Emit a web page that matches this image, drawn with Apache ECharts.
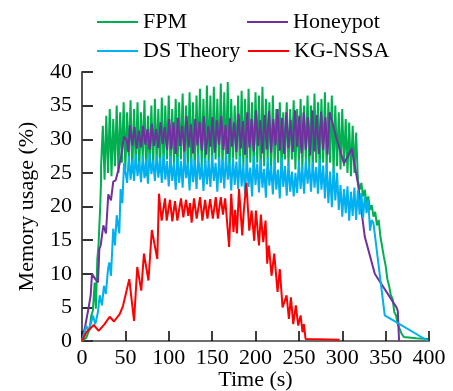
<!DOCTYPE html>
<html>
<head>
<meta charset="utf-8">
<script src="https://cdn.jsdelivr.net/npm/echarts@6.0.0/dist/echarts.min.js"></script>
<style>
  html, body { margin: 0; padding: 0; background: #fff; }
  #chart { width: 453px; height: 391px; }
</style>
</head>
<body>
<div id="chart"></div>
<script>
// axis ticks
var xTicks = [0, 50, 100, 150, 200, 250, 300, 350, 400];
var yTicks = [0, 5, 10, 15, 20, 25, 30, 35, 40];
var seriesNames = ['FPM', 'Honeypot', 'DS Theory', 'KG-NSSA'];

// FPM: ramp-up points, then samples every 2 s from 22 s, then the fall-off
var fpmHead = [[0, 0], [5, 0.5], [8.8, 1.8], [10.7, 3.8], [12.5, 4.5], [14.6, 8.7], [16, 4.8], [17.7, 12.2], [19, 14.2], [21, 20], [22, 24]];
var fpmStart = 22, fpmStep = 2;
var fpmValues = [
  26, 32, 24, 33.5, 25, 34.5, 24.5, 33, 26, 35,
  25, 34, 26.5, 35.5, 25.5, 34, 27, 35.8, 25, 34.5,
  26, 35.5, 25.5, 34, 27, 35.8, 24.5, 33.5, 26, 35,
  25.5, 36, 26.5, 34.5, 25, 36.2, 26, 35, 27, 36.5,
  25.5, 34.5, 26.5, 36, 25, 35.5, 27, 36.8, 26, 35,
  25.5, 37, 26.5, 35.5, 25, 36.5, 27, 37.5, 26, 36,
  25.5, 38, 26.5, 36.5, 25.5, 37.8, 27, 36, 26, 38.3,
  25.5, 37, 26.5, 38.5, 25, 36, 26.5, 35, 27, 36.5,
  25.5, 37.2, 26, 36, 25, 37.5, 26.5, 35.5, 25.5, 37,
  26.5, 36.5, 25, 37.8, 26, 36, 27, 35.5, 25.5, 36.5,
  26, 34.5, 26.5, 35.5, 25.5, 34, 27, 35.5, 26, 34.5,
  27, 35.8, 25.5, 34.5, 26.5, 36, 25.5, 35, 27, 36.5,
  26, 35, 25.5, 36.8, 26.5, 35.5, 25, 36, 26.5, 37,
  25.5, 35.5, 26.5, 36.5, 25, 35, 26, 34, 25.5, 34.5,
  26, 33, 25, 32.5, 24.5, 32, 25, 31
];
var fpmTail = [[318, 24], [320, 22.5], [322, 23.5], [324, 21.5], [326, 22.5], [328, 20.5], [330, 21.5], [332, 19.5],
  [334, 20.2], [336, 18.5], [338, 19.2], [340, 17.2], [342, 18], [344, 15.5], [346, 15.5], [348, 12.5], [350, 11.2],
  [352, 9.2], [354, 8.2], [356, 6.8], [358, 6.3], [360, 4.3], [362, 3.8], [364, 2.5], [366, 2.3], [368, 1.2],
  [371, 0.6], [385, 0.4], [399, 0.3]];

// Honeypot: samples every 2.5 s from 58 s
var honeyHead = [[0, 0], [3.8, 2.3], [7.7, 5], [10, 6.8], [11.5, 10], [15.3, 9.2], [18.4, 8.7], [20, 13.7], [21.5, 14.2],
  [24.6, 17.2], [27.6, 16], [30.3, 21.8], [33.4, 20.9], [36, 23.7], [38.8, 23.9], [41.8, 25.4], [45, 27.4],
  [48.4, 30.4], [51.5, 29.9], [53.4, 28.1], [55.3, 32.1]];
var honeyStart = 58, honeyStep = 2.5;
var honeyValues = [
  29.1, 31.8, 28.6, 31.3, 28.8, 32, 29.2, 31.5, 28.5, 32.3,
  29, 31.5, 28.7, 32.5, 29.3, 31.8, 28.4, 33, 28.5, 32.5,
  27.8, 33.2, 29, 32, 28.2, 33.5, 28.8, 32.2, 27.9, 33,
  29.1, 32.6, 28.3, 33.4, 27.7, 32, 28.9, 33.3, 28, 32.8,
  29.2, 33.5, 28.4, 32.1, 27.8, 33.1, 28.9, 32.5, 28.1, 33.8,
  28.6, 32.7, 27.7, 34, 28.8, 33, 28.2, 34.3, 29, 32.8,
  27.9, 33.6, 28.5, 34.2, 28, 33, 29.1, 34.5, 28.3, 33.2,
  27.8, 34, 28.7, 32.9, 28.1, 34.3, 28.9, 33.5, 27.9, 34,
  28.4, 33.3, 27.6, 34.3, 28.2, 33.6, 27.8, 34.1, 28.4, 33.3,
  27.7, 34
];
var honeyTail = [[293.4, 30.1], [302, 26.4], [311, 28.6], [318, 23.5], [326, 15.5], [337.5, 10], [362.5, 5], [364, 4.5], [365.5, 0]];

// DS Theory: samples every 2 s from 50 s
var dsHead = [[0, 0], [5, 2.3], [7, 1.5], [10, 2.5], [12.7, 3.8], [15.3, 2.5], [18.4, 4.3], [20.4, 6.8], [23, 5.3],
  [25.3, 8.2], [27.5, 7], [30, 10.7], [31.5, 11.7], [33.4, 9.7], [36, 16.7], [38, 14.2], [40, 18.7], [43, 16],
  [44.5, 22.6], [46.5, 20.5], [48.5, 26.5]];
var dsStart = 50, dsStep = 2;
var dsValues = [
  26.5, 23.5, 27.5, 24, 27, 23.8, 27.8, 24.5, 26.8, 23.6,
  27.5, 24.2, 27, 23.4, 27.9, 24.8, 26.9, 23.8, 27.6, 24.3,
  27.2, 23.5, 27.8, 24, 26.8, 23, 27.5, 23.8, 26.6, 22.5,
  27.4, 23.5, 26.8, 22.8, 27.9, 24.2, 26.5, 22.4, 27.3, 23.6,
  26.9, 22.6, 27.7, 24, 26.4, 22.3, 27.2, 23.3, 26.8, 22.9,
  27.6, 23.8, 26.5, 22.2, 27.4, 23.5, 26.9, 22.7, 27.8, 24,
  26.6, 22.4, 27.3, 23.2, 26.7, 22.6, 27.5, 23, 26.2, 21.8,
  27.2, 22.9, 25.8, 21.5, 27.6, 23.2, 26.4, 22.1, 27, 22.8,
  25.6, 21.3, 27.3, 23.1, 26.1, 21.8, 26.9, 22.5, 25.5, 21.2,
  27.2, 22.9, 26, 21.6, 26.5, 22.2, 25.2, 21.5, 25, 22,
  26.8, 22.6, 25.9, 21.9, 27.1, 23.4, 26.2, 22.2, 26.7, 22.8,
  25.9, 21.9, 27, 22.5, 26.1, 21.2, 26.4, 20.5, 25.2, 19.9,
  25.8, 20.9, 25, 19.5, 23.2, 18.5, 22.6, 19, 23, 17.9,
  22.2, 18.6, 22.8, 18, 22.4, 18.8, 22, 18.3, 21.5
];
var dsTail = [[328, 19], [330, 21], [332, 16.4], [334, 18], [336, 17.5], [349, 3.8], [399, 0]];

// KG-NSSA: read point by point
var kgPoints = [[0, 0], [5, 1.3], [10.7, 2], [13.5, 2.4], [19.2, 1.5], [26, 2.5], [31.9, 3.6], [36.9, 2.9], [43.4, 4],
  [47.2, 5.2], [49.5, 5], [54.5, 9.2], [60, 3], [63.7, 11], [68.3, 7.5], [71.4, 13], [76.6, 9], [80.5, 16.5],
  [86.8, 12.2], [88.7, 21.9], [91.8, 17.9], [95.7, 21.2], [97.6, 17.9], [101.4, 21], [104.1, 17.8], [107.2, 20.8],
  [109.9, 17.9], [114.1, 21.2], [116.8, 18.4], [119.9, 21], [122.5, 18.6], [124.5, 20.5], [126.4, 17.6],
  [129.1, 21.2], [132.2, 18.2], [136.1, 21.4], [138.8, 17.9], [141.9, 21], [144.6, 18.2], [147.7, 21.1],
  [150.8, 18.2], [154.2, 21.4], [156.6, 18.2], [160, 21.4], [162.5, 18.8], [165, 21.2], [169.6, 14], [172, 21.9],
  [174.6, 16.2], [176.5, 19.5], [178.6, 16], [181, 22.6], [184.7, 15.7], [186.6, 19.5], [189.5, 23.5],
  [192.8, 16.4], [195.5, 19.4], [198.5, 14.9], [200.5, 19.4], [204, 14.2], [206.2, 18.8], [208.9, 14.7],
  [211.6, 17.9], [213.5, 11.5], [215.4, 14.2], [218.5, 9.7], [221.6, 13], [225.4, 7.3], [228, 10.7], [231.2, 5],
  [235.8, 6.8], [238.5, 3.3], [240.8, 6.5], [243.5, 2.5], [246.5, 5.3], [249.2, 2.3], [252, 3.8], [254.2, 1.3],
  [255.8, 2.5], [257.7, 0.3], [297, 0.2]];

var colors = ['#00b050', '#7030a0', '#00b0f0', '#ff0000'];
var serif = 'Liberation Serif';

function build(head, start, step, values, tail) {
  var pts = head.slice();
  values.forEach(function (v, i) { pts.push([start + i * step, v]); });
  return pts.concat(tail);
}

var seriesData = [
  build(fpmHead, fpmStart, fpmStep, fpmValues, fpmTail),
  build(honeyHead, honeyStart, honeyStep, honeyValues, honeyTail),
  build(dsHead, dsStart, dsStep, dsValues, dsTail),
  kgPoints
];

// legend placed as a 2 x 2 block
var legendPos = [[97, 11], [247, 11], [97, 40], [248, 40]];

var chart = echarts.init(document.getElementById('chart'), null, { renderer: 'canvas' });
chart.setOption({
  animation: false,
  backgroundColor: '#fff',
  textStyle: { fontFamily: serif },
  legend: seriesNames.map(function (name, i) {
    return {
      data: [{ name: name, icon: 'rect', itemStyle: { color: colors[i] } }],
      left: legendPos[i][0],
      top: legendPos[i][1],
      padding: 0,
      itemWidth: 41,
      itemHeight: 2,
      itemGap: 0,
      textStyle: { fontFamily: serif, fontSize: 22, color: '#000' },
      selectedMode: false
    };
  }),
  grid: { left: 82, right: 24, top: 72, bottom: 50, outerBoundsMode: 'none', containLabel: false },
  xAxis: {
    type: 'value',
    min: xTicks[0],
    max: xTicks[xTicks.length - 1],
    interval: 50,
    name: 'Time (s)',
    nameLocation: 'middle',
    nameGap: 28,
    nameMoveOverlap: false,
    nameTextStyle: { fontFamily: serif, fontSize: 22, color: '#000' },
    axisLine: { show: true, lineStyle: { color: '#6d6d6d', width: 2 } },
    axisTick: { show: true, inside: true, length: 10, lineStyle: { color: '#000', width: 1.5 } },
    axisLabel: { fontFamily: serif, fontSize: 22, color: '#000', margin: 6 },
    splitLine: { show: false }
  },
  yAxis: {
    type: 'value',
    min: yTicks[0],
    max: yTicks[yTicks.length - 1],
    interval: 5,
    name: 'Memory usage (%)',
    nameLocation: 'middle',
    nameGap: 44,
    nameMoveOverlap: false,
    nameTextStyle: { fontFamily: serif, fontSize: 22, color: '#000' },
    axisLine: { show: true, lineStyle: { color: '#555', width: 2 } },
    axisTick: { show: true, inside: true, length: 11, lineStyle: { color: '#333', width: 2 } },
    axisLabel: { fontFamily: serif, fontSize: 22, color: '#000', margin: 10 },
    splitLine: { show: false }
  },
  series: seriesNames.map(function (name, i) {
    return {
      name: name,
      type: 'line',
      data: seriesData[i],
      symbol: 'none',
      lineStyle: { color: colors[i], width: 2 },
      itemStyle: { color: colors[i] },
      emphasis: { disabled: true }
    };
  })
});
</script>
</body>
</html>
